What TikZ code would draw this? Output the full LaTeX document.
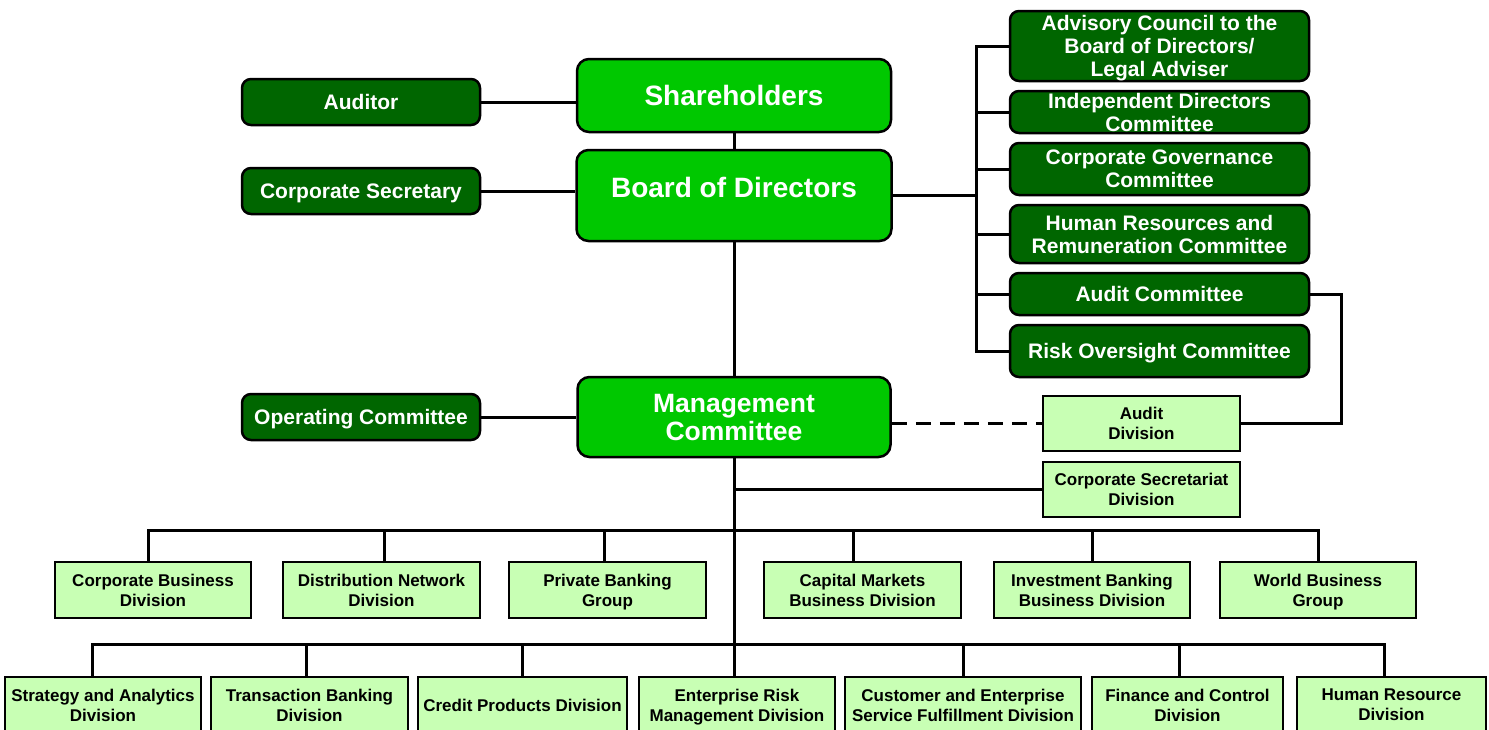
\documentclass[tikz,border=0pt]{standalone}
\usepackage{fontspec}
\setmainfont{Liberation Sans}
\usetikzlibrary{positioning}
\definecolor{boardgreen}{HTML}{00C800}
\definecolor{darkgreen}{HTML}{006600}
\definecolor{palegreen}{HTML}{C8FFB4}

\begin{document}
\begin{tikzpicture}[x=1pt,y=-1pt,
    topbox/.style={draw=black, line width=2.5pt, fill=boardgreen, rounded corners=12pt,
      text=white, font=\bfseries\fontsize{28}{28}\selectfont, align=center, inner sep=0pt,
      text depth=0pt, minimum width=314pt},
    darkbox/.style={draw=black, line width=2.5pt, fill=darkgreen, rounded corners=9pt,
      text=white, font=\bfseries\fontsize{21}{23}\selectfont, align=center, inner sep=0pt,
      text depth=0pt},
    sidebox/.style={darkbox, minimum width=238pt, minimum height=46pt},
    cttebox/.style={darkbox, minimum width=299pt},
    divbox/.style={draw=black, line width=2.5pt, fill=palegreen,
      font=\bfseries\fontsize{17}{20}\selectfont, align=center, inner sep=0pt,
      text depth=0pt, minimum height=56pt},
    link/.style={line width=3pt}]
  \useasboundingbox (0,0) rectangle (1489,729);
  \clip (0,0) rectangle (1489,729);

  % governing bodies
  \node[topbox, minimum height=73pt] (share) at (734,95.5) {Shareholders};
  \node[topbox, minimum height=91pt, minimum width=315pt, text depth=17pt] (board) at (734,195.5) {Board of Directors};
  \node[topbox, minimum height=80pt, minimum width=313pt, font=\bfseries\fontsize{26.5}{28}\selectfont] (mgmt) at (734,417) {Management\\Committee};

  \node[sidebox] (auditor) at (361,102) {Auditor};
  \node[sidebox] (corpsec) at (361,191) {Corporate Secretary};
  \node[sidebox] (opcom) at (361,417) {Operating Committee};

  % board committees
  \node[cttebox, minimum height=70pt] (advisory) at (1159.5,46) {Advisory Council to the\\Board of Directors/\\Legal Adviser};
  \node[cttebox, minimum height=42pt, below=7.5pt of advisory] (indep) {Independent Directors\\Committee};
  \node[cttebox, minimum height=52pt, below=7.5pt of indep] (govern) {Corporate Governance\\Committee};
  \node[cttebox, minimum height=58pt, below=7.5pt of govern] (hrcom) {Human Resources and\\Remuneration Committee};
  \node[cttebox, minimum height=42pt, below=7.5pt of hrcom] (auditcom) {Audit Committee};
  \node[cttebox, minimum height=52pt, below=7.5pt of auditcom] (risk) {Risk Oversight Committee};

  \node[divbox, minimum width=197pt, minimum height=55pt] (auditdiv) at (1141.5,423.5) {Audit\\Division};
  \node[divbox, minimum width=197pt, minimum height=55pt] (secdiv) at (1141.5,489.5) {Corporate Secretariat\\Division};

  % business units
  \node[divbox, minimum width=196pt] (corpbiz) at (153,590) {Corporate Business\\Division};
  \node[divbox, minimum width=197pt] (distnet) at (381.5,590) {Distribution Network\\Division};
  \node[divbox, minimum width=197pt] (privbank) at (607.5,590) {Private Banking\\Group};
  \node[divbox, minimum width=197pt] (capmkt) at (862.5,590) {Capital Markets\\Business Division};
  \node[divbox, minimum width=196pt] (invbank) at (1092,590) {Investment Banking\\Business Division};
  \node[divbox, minimum width=196pt] (worldbiz) at (1318,590) {World Business\\Group};

  % corporate units
  \node[divbox, minimum width=196pt] (strategy) at (103,705) {Strategy and Analytics\\Division};
  \node[divbox, minimum width=197pt] (transact) at (309.5,705) {Transaction Banking\\Division};
  \node[divbox, minimum width=209pt] (credit) at (522.5,705) {Credit Products Division};
  \node[divbox, minimum width=196pt] (erm) at (737,705) {Enterprise Risk\\Management Division};
  \node[divbox, minimum width=236pt] (custsvc) at (963,705) {Customer and Enterprise\\Service Fulfillment Division};
  \node[divbox, minimum width=191pt] (finance) at (1187.5,705) {Finance and Control\\Division};
  \node[divbox, minimum width=189pt] (hrdiv) at (1391.5,705) {Human Resource\\Division};

  \coordinate (cbus) at (976,0);
  \coordinate (bus1) at (0,530);
  \coordinate (bus2) at (0,644);

  \draw[link] (share) -- (board);
  \draw[link] (board) -- (mgmt);
  \draw[link] (auditor.east) -- (auditor.east -| share.west);
  \draw[link] (corpsec.east) -- (corpsec.east -| board.west);
  \draw[link] (opcom.east) -- (opcom.east -| mgmt.west);

  \draw[link] (board.east) -- (board.east -| cbus);
  \draw[link] (advisory.west) -- (advisory.west -| cbus) -- (risk.west -| cbus) -- (risk.west);
  \draw[link] (indep.west) -- (indep.west -| cbus);
  \draw[link] (govern.west) -- (govern.west -| cbus);
  \draw[link] (hrcom.west) -- (hrcom.west -| cbus);
  \draw[link] (auditcom.west) -- (auditcom.west -| cbus);

  \draw[link] (auditcom.east) -- ++(31,0) |- (auditdiv.east);
  \draw[link, dash pattern=on 15pt off 9pt] (auditdiv.west -| mgmt.east) -- (auditdiv.west);
  \draw[link] (mgmt.south) -- (mgmt.south |- erm.north);
  \draw[link] (secdiv.west -| mgmt.south) -- (secdiv.west);

  \draw[link] ([xshift=-5pt]corpbiz.north) -- ([xshift=-5pt]corpbiz.north |- bus1) -- (worldbiz.north |- bus1) -- (worldbiz.north);
  \draw[link] ([xshift=3pt]distnet.north) -- ([xshift=3pt]distnet.north |- bus1);
  \draw[link] ([xshift=-3pt]privbank.north) -- ([xshift=-3pt]privbank.north |- bus1);
  \draw[link] ([xshift=-9pt]capmkt.north) -- ([xshift=-9pt]capmkt.north |- bus1);
  \draw[link] (invbank.north) -- (invbank.north |- bus1);

  \draw[link] ([xshift=-11pt]strategy.north) -- ([xshift=-11pt]strategy.north |- bus2) -- ([xshift=-7pt]hrdiv.north |- bus2) -- ([xshift=-7pt]hrdiv.north);
  \draw[link] ([xshift=-3pt]transact.north) -- ([xshift=-3pt]transact.north |- bus2);
  \draw[link] (credit.north) -- (credit.north |- bus2);
  \draw[link] (custsvc.north) -- (custsvc.north |- bus2);
  \draw[link] ([xshift=-8pt]finance.north) -- ([xshift=-8pt]finance.north |- bus2);
\end{tikzpicture}
\end{document}
